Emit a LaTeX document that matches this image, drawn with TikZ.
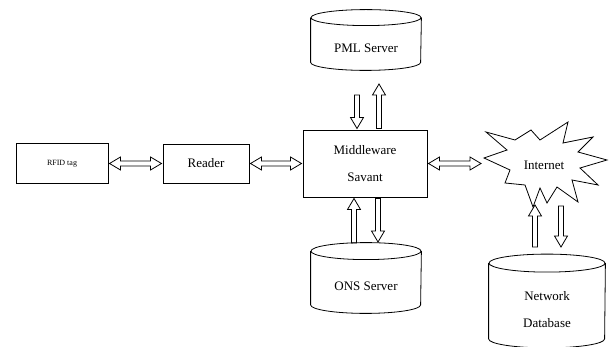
\documentclass[tikz,border=0pt]{standalone}
\usepackage{fontspec}
\setmainfont{Liberation Serif}
\usetikzlibrary{calc,positioning}

\newcommand{\fatshaft}{2.5pt}
\newcommand{\fathead}{6.5pt}
\newcommand{\fatlen}{11pt}

\tikzset{
	block/.style={draw,rectangle,outer sep=1.5pt,align=center,
		font=\fontsize{13}{27}\selectfont},
	store/.style={rectangle,inner sep=0pt,align=center,
		font=\fontsize{13}{27}\selectfont},
	fat/.style={to path={
		($(\tikztostart)!\fatshaft!90:(\tikztotarget)$)
		-- ($(\tikztotarget)!\fatlen!(\tikztostart)!\fatshaft!-90:(\tikztostart)$)
		-- ($(\tikztotarget)!\fatlen!(\tikztostart)!\fathead!-90:(\tikztostart)$)
		-- (\tikztotarget)
		-- ($(\tikztotarget)!\fatlen!(\tikztostart)!\fathead!90:(\tikztostart)$)
		-- ($(\tikztotarget)!\fatlen!(\tikztostart)!\fatshaft!90:(\tikztostart)$)
		-- ($(\tikztostart)!\fatshaft!-90:(\tikztotarget)$)
		-- cycle}},
	fatboth/.style={to path={
		(\tikztostart)
		-- ($(\tikztostart)!\fatlen!(\tikztotarget)!\fathead!90:(\tikztotarget)$)
		-- ($(\tikztostart)!\fatlen!(\tikztotarget)!\fatshaft!90:(\tikztotarget)$)
		-- ($(\tikztotarget)!\fatlen!(\tikztostart)!\fatshaft!-90:(\tikztostart)$)
		-- ($(\tikztotarget)!\fatlen!(\tikztostart)!\fathead!-90:(\tikztostart)$)
		-- (\tikztotarget)
		-- ($(\tikztotarget)!\fatlen!(\tikztostart)!\fathead!90:(\tikztostart)$)
		-- ($(\tikztotarget)!\fatlen!(\tikztostart)!\fatshaft!90:(\tikztostart)$)
		-- ($(\tikztostart)!\fatlen!(\tikztotarget)!\fatshaft!-90:(\tikztotarget)$)
		-- ($(\tikztostart)!\fatlen!(\tikztotarget)!\fathead!-90:(\tikztotarget)$)
		-- cycle}}
}

\begin{document}
\begin{tikzpicture}[x=1pt,y=-1pt,line width=0.8pt]
	\useasboundingbox (0,0) rectangle (610,347);

	% boxes
	\node[block,minimum width=92pt,minimum height=40pt,font=\fontsize{8}{9}\selectfont] (tag) at (62,163.5) {RFID tag};
	\node[block,minimum width=86pt,minimum height=39pt] (reader) at (206,163.5) {Reader};
	\node[block,minimum width=124pt,minimum height=67pt] (mid) at (365,163.5) {Middleware\\Savant};

	% servers (front face of each drum)
	\node[store,minimum width=110pt,minimum height=44pt] (pml) at (366,48) {PML Server};
	\node[store,minimum width=110pt,minimum height=53pt] (ons) at (366,286.5) {ONS Server};
	\node[store,minimum width=116pt,minimum height=75pt] (db) at (547,310) {Network\\Database};

	\foreach \n/\rx/\ry in {pml/55/8,ons/55/8.5,db/58/9}
		\draw ([yshift=\ry pt]\n.north west) -- ([yshift=\ry pt]\n.south west)
			arc[start angle=180,end angle=360,x radius=\rx pt,y radius=\ry pt]
			-- ([yshift=\ry pt]\n.north east)
			([yshift=\ry pt]\n.north) ellipse[x radius=\rx pt,y radius=\ry pt];

	% internet cloud
	\node[font=\fontsize{13}{15}\selectfont] (inet) at (544,165) {Internet};
	\draw[shift={(545,163)}] (-61,-5) -- (-38,-13) -- (-59,-31) -- (-30,-23) -- (-14,-33)
		-- (-5,-23) -- (23,-41) -- (18,-20) -- (48,-26) -- (33,-11) -- (62,-3)
		-- (35,5) -- (53,22) -- (27,17) -- (33,39) -- (12,24) -- (2,40)
		-- (-5,25) -- (-12,44) -- (-20,22) -- (-40,20) -- (-35,7) -- cycle;

	\coordinate (inetW) at (481,163.5);
	\coordinate (pmlA) at (357,95);
	\coordinate (pmlB) at (379,84);
	\coordinate (onsA) at (354,243);
	\coordinate (onsB) at (378,242);
	\coordinate (dbA) at (535,247);
	\coordinate (dbB) at (561,247);
	\coordinate (inetA) at (535,205);
	\coordinate (inetB) at (561,206);

	\draw (tag.east) to[fatboth] (reader.west)
		(reader.east) to[fatboth] (mid.west)
		(mid.east) to[fatboth] (inetW);

	\draw (pmlA) to[fat] (pmlA |- mid.north)
		(pmlB |- mid.north) to[fat] (pmlB)
		(onsA) to[fat] (onsA |- mid.south)
		(onsB |- mid.south) to[fat] (onsB)
		(dbA) to[fat] (inetA)
		(inetB) to[fat] (dbB);

\end{tikzpicture}
\end{document}
